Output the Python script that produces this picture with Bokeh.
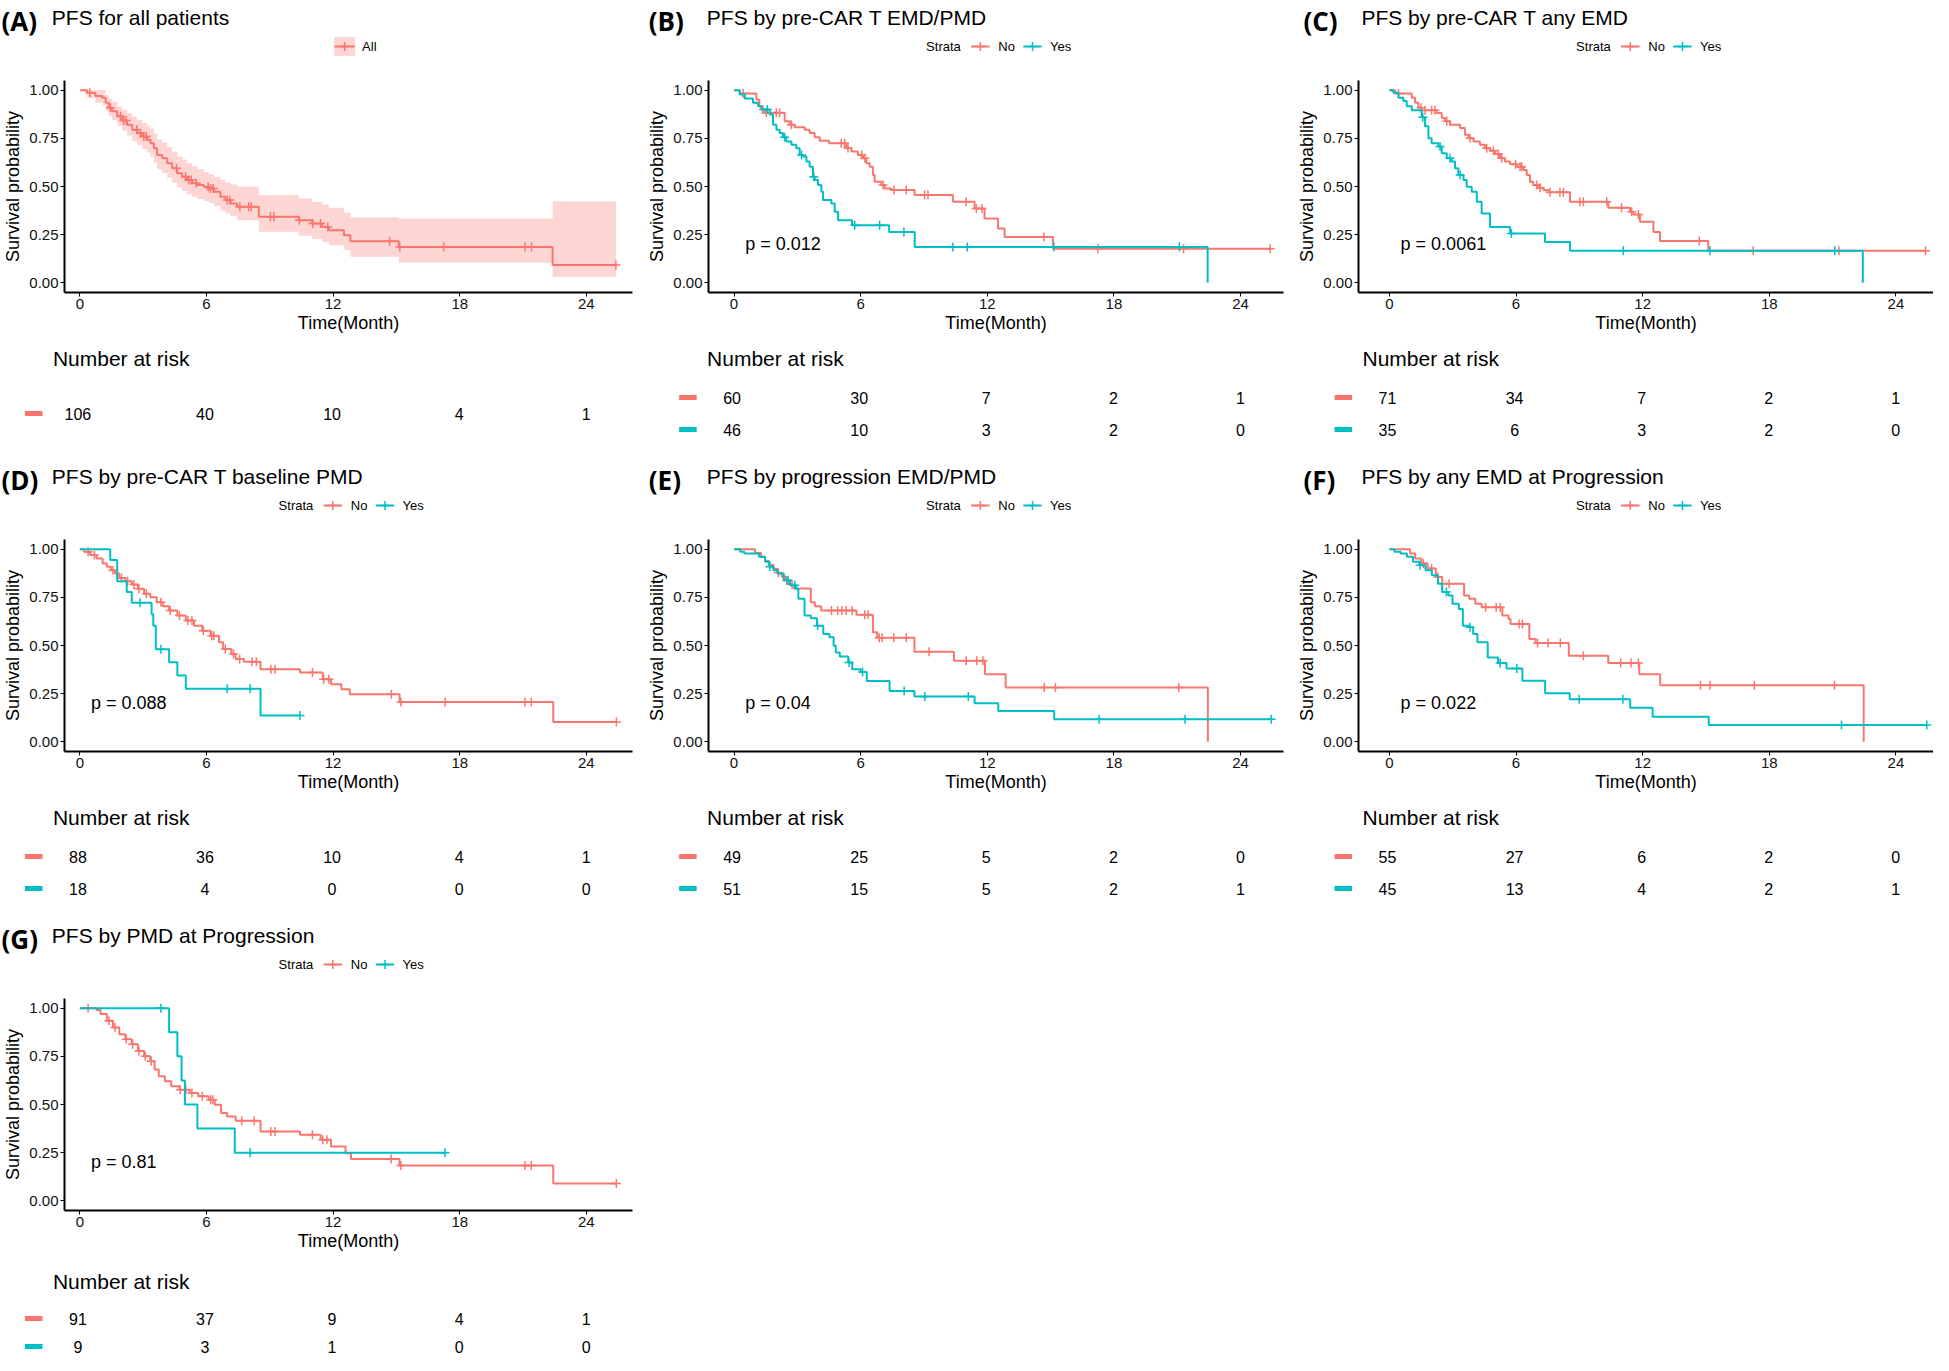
import numpy as np
from bokeh.plotting import figure
from bokeh.layouts import column, row
from bokeh.models import Range1d, FixedTicker, PrintfTickFormatter
from bokeh.core.properties import value
from bokeh.embed import file_html
from bokeh.resources import INLINE

# ------------------------------------------------------------------ data
RISK_TIMES = [0, 6, 12, 18, 24]
X_TICKS = [0, 6, 12, 18, 24]
Y_TICKS = [0.0, 0.25, 0.50, 0.75, 1.0]

# (A) all patients
A_all_t = [0, 0.35, 0.74, 1.06, 1.22, 1.37, 1.53, 1.77, 2.01, 2.24, 2.48, 2.72, 2.95, 3.19, 3.35, 3.51,
           3.66, 3.90, 4.14, 4.37, 4.61, 4.85, 5.08, 5.32, 5.56, 5.87, 6.11, 6.35, 6.66, 6.90, 7.14, 7.45,
           8.48, 10.37, 11.01, 11.48, 11.80, 12.51, 12.82, 15.11, 22.40, 25.40]
A_all_s = [1.0, 0.986, 0.969, 0.960, 0.934, 0.908, 0.890, 0.864, 0.842, 0.821, 0.795, 0.777, 0.760, 0.743,
           0.725, 0.699, 0.664, 0.647, 0.621, 0.595, 0.569, 0.551, 0.534, 0.517, 0.508, 0.499, 0.490, 0.473,
           0.447, 0.430, 0.412, 0.395, 0.343, 0.325, 0.308, 0.290, 0.273, 0.247, 0.216, 0.186, 0.093, 0.093]
A_band_lo = [1.0, 0.96, 0.935, 0.92, 0.89, 0.865, 0.845, 0.815, 0.79, 0.765, 0.735, 0.715, 0.695, 0.675,
             0.655, 0.625, 0.59, 0.57, 0.545, 0.52, 0.495, 0.475, 0.46, 0.445, 0.435, 0.425, 0.415, 0.40,
             0.375, 0.36, 0.345, 0.325, 0.265, 0.245, 0.228, 0.212, 0.195, 0.17, 0.135, 0.104, 0.03, 0.03]
A_band_hi = [1.0, 1.0, 1.0, 1.0, 0.975, 0.955, 0.94, 0.915, 0.90, 0.88, 0.86, 0.845, 0.83, 0.815, 0.80,
             0.775, 0.745, 0.73, 0.705, 0.68, 0.655, 0.64, 0.62, 0.605, 0.59, 0.575, 0.565, 0.55, 0.535,
             0.52, 0.51, 0.50, 0.456, 0.438, 0.42, 0.407, 0.39, 0.365, 0.34, 0.334, 0.424, 0.424]
A_all_cens = [0.47, 1.45, 1.93, 2.08, 2.20, 2.70, 2.87, 3.03, 3.15, 4.58, 5.01, 5.16, 5.28, 5.52, 6.08,
              6.19, 6.32, 6.98, 7.10, 7.58, 8.00, 8.12, 9.03, 9.19, 10.40, 11.04, 11.40, 11.75, 14.68,
              15.16, 17.24, 21.10, 21.40, 25.40]
A_risk_all = [106, 40, 10, 4, 1]

# (B) pre-CAR T EMD/PMD
B_no_t = [0, 0.27, 1.06, 1.20, 1.30, 1.45, 2.40, 2.64, 2.87, 3.35, 3.58, 3.82, 4.06, 4.50, 5.32, 5.56,
          5.87, 6.11, 6.27, 6.43, 6.58, 6.66, 6.98, 7.14, 7.45, 8.56, 10.37, 11.40, 11.87, 12.51, 12.82,
          15.11, 25.40]
B_no_s = [1.0, 0.983, 0.950, 0.917, 0.900, 0.883, 0.838, 0.821, 0.807, 0.795, 0.777, 0.755, 0.737, 0.725,
          0.700, 0.682, 0.664, 0.647, 0.621, 0.603, 0.560, 0.525, 0.508, 0.490, 0.482, 0.456, 0.421, 0.386,
          0.334, 0.282, 0.238, 0.177, 0.177]
B_no_cens = [0.43, 1.37, 1.53, 2.00, 2.16, 2.72, 5.08, 5.24, 5.40, 6.05, 6.20, 7.06, 7.58, 8.16, 9.03,
             9.19, 11.00, 11.48, 11.75, 14.68, 17.24, 21.30, 25.40]
B_yes_t = [0, 0.27, 0.51, 0.90, 1.14, 1.30, 1.69, 1.85, 2.01, 2.16, 2.32, 2.48, 2.72, 2.95, 3.11, 3.27,
           3.43, 3.58, 3.74, 3.82, 3.98, 4.14, 4.22, 4.61, 4.77, 4.93, 5.59, 7.35, 8.56, 22.44]
B_yes_s = [1.0, 0.977, 0.957, 0.934, 0.917, 0.899, 0.873, 0.821, 0.795, 0.777, 0.755, 0.734, 0.717, 0.699,
           0.664, 0.656, 0.630, 0.603, 0.551, 0.534, 0.508, 0.473, 0.430, 0.412, 0.369, 0.325, 0.299, 0.264,
           0.186, 0.0]
B_yes_cens = [1.58, 2.40, 3.20, 3.78, 5.72, 6.90, 8.05, 10.37, 11.05, 15.16, 21.10]
B_risk_no = [60, 30, 7, 2, 1]
B_risk_yes = [46, 10, 3, 2, 0]

# (C) pre-CAR T any EMD
C_no_t = [0, 0.27, 1.06, 1.22, 1.37, 1.53, 2.24, 2.48, 2.64, 2.87, 3.35, 3.58, 3.74, 3.98, 4.29, 4.53,
          4.77, 5.01, 5.24, 5.48, 5.72, 6.03, 6.35, 6.51, 6.66, 6.82, 7.06, 7.30, 7.53, 8.56, 10.37, 11.40,
          11.56, 11.87, 12.51, 12.82, 15.11, 25.40]
C_no_s = [1.0, 0.983, 0.960, 0.934, 0.908, 0.896, 0.882, 0.856, 0.838, 0.821, 0.803, 0.769, 0.751, 0.734,
          0.717, 0.699, 0.685, 0.668, 0.647, 0.630, 0.616, 0.603, 0.586, 0.560, 0.525, 0.508, 0.494, 0.482,
          0.470, 0.421, 0.390, 0.369, 0.355, 0.317, 0.264, 0.217, 0.167, 0.167]
C_no_cens = [0.43, 1.50, 1.69, 2.00, 2.16, 2.72, 3.82, 4.61, 4.93, 5.16, 5.32, 5.98, 6.19, 6.27, 6.98,
             7.14, 7.61, 8.08, 8.24, 9.03, 9.19, 10.30, 11.00, 11.48, 11.80, 14.68, 17.24, 21.30, 25.40]
C_yes_t = [0, 0.19, 0.43, 0.66, 0.82, 1.06, 1.53, 1.69, 1.85, 2.00, 2.32, 2.48, 2.72, 2.95, 3.11, 3.27,
           3.51, 3.66, 3.90, 4.14, 4.37, 4.77, 5.72, 7.37, 8.56, 22.43]
C_yes_s = [1.0, 0.986, 0.960, 0.943, 0.917, 0.896, 0.859, 0.812, 0.751, 0.725, 0.708, 0.673, 0.647, 0.630,
           0.595, 0.560, 0.534, 0.499, 0.473, 0.421, 0.360, 0.290, 0.256, 0.212, 0.167, 0.0]
C_yes_cens = [1.58, 2.40, 2.87, 3.35, 5.78, 11.08, 15.19, 21.10]
C_risk_no = [71, 34, 7, 2, 1]
C_risk_yes = [35, 6, 3, 2, 0]

# (D) pre-CAR T baseline PMD
D_no_t = [0, 0.20, 0.49, 0.79, 1.08, 1.28, 1.48, 1.67, 1.87, 2.16, 2.46, 2.75, 3.05, 3.34, 3.64, 3.93,
          4.23, 4.62, 5.02, 5.41, 5.80, 6.20, 6.59, 6.79, 7.18, 7.38, 7.77, 8.56, 10.43, 11.51, 11.90,
          12.39, 12.79, 15.15, 22.43, 25.42]
D_no_s = [1.0, 0.986, 0.969, 0.951, 0.925, 0.908, 0.890, 0.873, 0.850, 0.833, 0.816, 0.795, 0.769, 0.751,
          0.725, 0.704, 0.682, 0.656, 0.630, 0.603, 0.577, 0.551, 0.517, 0.482, 0.456, 0.430, 0.416, 0.377,
          0.360, 0.325, 0.299, 0.273, 0.247, 0.207, 0.103, 0.103]
D_no_cens = [0.39, 0.69, 1.57, 1.97, 2.26, 2.56, 2.80, 3.15, 3.84, 4.28, 4.72, 5.12, 5.31, 5.85, 6.25,
             6.35, 6.89, 7.28, 7.57, 8.16, 8.36, 9.05, 9.25, 11.02, 11.55, 11.80, 14.76, 15.21, 17.31,
             21.09, 21.39, 25.42]
D_yes_t = [0, 1.44, 1.77, 2.22, 2.46, 3.40, 3.48, 3.60, 4.23, 4.62, 5.02, 8.56, 10.43]
D_yes_s = [1.0, 0.944, 0.833, 0.778, 0.722, 0.662, 0.602, 0.481, 0.413, 0.344, 0.275, 0.137, 0.137]
D_yes_cens = [2.85, 3.84, 6.98, 8.07, 10.43]
D_risk_no = [88, 36, 10, 4, 1]
D_risk_yes = [18, 4, 0, 0, 0]

# (E) progression EMD/PMD
E_no_t = [0, 1.00, 1.28, 1.47, 1.67, 1.87, 2.06, 2.26, 2.46, 2.65, 2.85, 3.64, 3.83, 4.13, 5.80, 6.58,
          6.78, 8.55, 10.42, 11.89, 12.87, 22.45]
E_no_s = [1.0, 0.980, 0.959, 0.939, 0.918, 0.898, 0.878, 0.857, 0.837, 0.816, 0.796, 0.725, 0.704, 0.682,
          0.659, 0.569, 0.540, 0.468, 0.421, 0.351, 0.282, 0.0]
E_no_cens = [2.10, 2.50, 2.75, 4.62, 4.91, 5.11, 5.31, 5.60, 6.19, 6.35, 6.88, 7.02, 7.57, 8.16, 9.24,
             11.00, 11.50, 11.79, 14.70, 15.23, 21.07]
E_yes_t = [0, 0.29, 0.49, 1.18, 1.47, 1.67, 1.87, 2.06, 2.36, 2.65, 2.95, 3.05, 3.34, 3.64, 3.93, 4.23,
           4.52, 4.72, 4.82, 5.01, 5.41, 5.60, 6.00, 6.29, 7.37, 8.55, 11.40, 12.52, 15.17, 25.45]
E_yes_s = [1.0, 0.986, 0.977, 0.960, 0.934, 0.908, 0.890, 0.873, 0.838, 0.812, 0.795, 0.743, 0.656, 0.642,
           0.603, 0.560, 0.543, 0.499, 0.464, 0.443, 0.412, 0.377, 0.363, 0.316, 0.264, 0.235, 0.200, 0.160,
           0.117, 0.117]
E_yes_cens = [1.70, 2.56, 2.88, 3.96, 5.45, 6.09, 8.06, 9.04, 11.10, 17.30, 21.37, 25.45]
E_risk_no = [49, 25, 5, 2, 0]
E_risk_yes = [51, 15, 5, 2, 1]

# (F) any EMD at progression
F_no_t = [0, 0.98, 1.22, 1.51, 1.81, 2.20, 2.50, 3.54, 3.78, 4.07, 4.37, 5.35, 5.65, 5.74, 6.63, 6.93,
          8.50, 10.37, 11.84, 12.83, 22.47]
F_no_s = [1.0, 0.977, 0.951, 0.925, 0.899, 0.856, 0.821, 0.760, 0.743, 0.717, 0.699, 0.656, 0.638, 0.612,
          0.534, 0.513, 0.447, 0.409, 0.351, 0.294, 0.0]
F_no_cens = [1.61, 2.00, 2.30, 2.83, 4.56, 5.06, 5.25, 6.14, 6.30, 7.02, 7.52, 8.10, 9.19, 10.96, 11.45,
             11.80, 14.74, 15.19, 17.29, 21.09]
F_yes_t = [0, 0.24, 0.53, 0.83, 1.12, 1.42, 1.71, 2.01, 2.30, 2.50, 2.79, 2.99, 3.29, 3.48, 3.78, 3.97,
           4.17, 4.66, 5.15, 5.55, 6.30, 7.38, 8.54, 11.41, 12.47, 15.13, 25.46]
F_yes_s = [1.0, 0.986, 0.977, 0.960, 0.934, 0.916, 0.890, 0.864, 0.821, 0.777, 0.760, 0.717, 0.690, 0.603,
           0.595, 0.560, 0.517, 0.438, 0.409, 0.381, 0.317, 0.252, 0.221, 0.177, 0.130, 0.087, 0.087]
F_yes_cens = [1.45, 2.70, 3.82, 5.25, 6.04, 8.99, 11.06, 21.42, 25.46]
F_risk_no = [55, 27, 6, 2, 0]
F_risk_yes = [45, 13, 4, 2, 1]

# (G) PMD at progression
G_no_t = [0, 0.79, 0.98, 1.28, 1.57, 1.87, 2.16, 2.46, 2.75, 3.05, 3.34, 3.54, 3.74, 4.03, 4.33, 4.72,
          5.21, 5.61, 6.10, 6.39, 6.69, 6.98, 7.38, 8.56, 10.43, 11.41, 11.90, 12.59, 12.85, 15.15, 22.43,
          25.42]
G_no_s = [1.0, 0.990, 0.969, 0.934, 0.899, 0.864, 0.838, 0.812, 0.777, 0.751, 0.725, 0.682, 0.647, 0.621,
          0.595, 0.577, 0.560, 0.543, 0.525, 0.499, 0.456, 0.438, 0.416, 0.360, 0.343, 0.317, 0.282, 0.247,
          0.217, 0.183, 0.090, 0.090]
G_no_cens = [0.39, 1.38, 1.67, 2.20, 2.50, 2.80, 3.10, 3.38, 4.76, 5.02, 5.31, 5.80, 6.20, 6.30, 7.67,
             8.26, 9.05, 9.25, 11.02, 11.51, 11.71, 14.75, 15.21, 21.09, 21.39, 25.42]
G_yes_t = [0, 4.23, 4.62, 4.82, 4.98, 5.57, 7.34, 17.30]
G_yes_s = [1.0, 0.875, 0.750, 0.625, 0.500, 0.375, 0.250, 0.250]
G_yes_cens = [3.84, 8.07, 17.30]
G_risk_no = [91, 37, 9, 4, 1]
G_risk_yes = [9, 3, 1, 0, 0]

TAGS = ["(A)", "(B)", "(C)", "(D)", "(E)", "(F)", "(G)"]
TITLES = ["PFS for all patients", "PFS by pre-CAR T EMD/PMD", "PFS by pre-CAR T any EMD",
          "PFS by pre-CAR T baseline PMD", "PFS by progression EMD/PMD",
          "PFS by any EMD at Progression", "PFS by PMD at Progression"]
PVALS = [None, "p = 0.012", "p = 0.0061", "p = 0.088", "p = 0.04", "p = 0.022", "p = 0.81"]

# ------------------------------------------------------------------ style / geometry
RED = "#F8766D"
CYAN = "#00BFC4"
SANS = "Liberation Sans"
TAGFONT = "Open Sans"
PXM = 21.18                      # pixels per month
HEAD_H, FRAME_TOP, FRAME_H, BORDER_B, BORDER_L = 72, 8, 212, 48, 62
KM_H = FRAME_TOP + FRAME_H + BORDER_B
RISK_H = [119, 119, 97]
NAR_Y = [18, 18, 23]
ROW_YS = [(57, 89), (57, 89), (60, 88)]

COLS = [
    dict(fig_left=8, width=644, frame_left=70, frame_right=640, zero=85.4, ref_frame_left=58.3),
    dict(fig_left=652, width=650, frame_left=714, frame_right=1291, zero=739.6, ref_frame_left=713.3),
    dict(fig_left=1302, width=639, frame_left=1364, frame_right=1941, zero=1395.0, ref_frame_left=1367.9),
]


def surv_at(t, s, tc):
    idx = np.searchsorted(np.asarray(t), np.asarray(tc), side="right") - 1
    return np.asarray(s)[idx]


def bare(fig):
    fig.xgrid.visible = False
    fig.ygrid.visible = False
    fig.outline_line_color = None
    return fig


def header_fig(col, tag, title, legend):
    W = col["width"]
    h = figure(width=W, height=HEAD_H, x_range=Range1d(0, W), y_range=Range1d(HEAD_H, 0),
               output_backend="svg", toolbar_location=None, title=None, min_border=0,
               min_border_left=0, min_border_right=0, min_border_top=0, min_border_bottom=0,
               x_axis_location=None, y_axis_location=None, frame_align=False)
    bare(h)
    off = col["fig_left"]
    tag_x = max(9.0, col["ref_frame_left"] - 57) - off
    h.text(x=[tag_x], y=[20], text=[tag], text_font=value(TAGFONT), text_font_style="bold",
           text_font_size="26px", text_align="left", text_baseline="middle", text_color="black")
    h.text(x=[col["ref_frame_left"] + 1 - off], y=[16.5], text=[title], text_font=value(SANS),
           text_font_size="21px", text_align="left", text_baseline="alphabetic", text_color="black")
    c = (col["frame_left"] + col["frame_right"]) / 2 - off + 4
    ly = 46
    if legend == "all":
        h.quad(left=[c - 17.4], right=[c + 3.6], top=[ly - 9.5], bottom=[ly + 9.5],
               fill_color=RED, fill_alpha=0.3, line_color=None)
        h.segment(x0=[c - 17.0], y0=[ly], x1=[c + 3.2], y1=[ly], line_color=RED, line_width=2)
        h.scatter(x=[c - 6.9], y=[ly], marker="cross", size=9, line_color=RED, line_width=1.5)
        h.text(x=[c + 10.6], y=[ly], text=["All"], text_font=value(SANS), text_font_size="13px",
               text_align="left", text_baseline="middle", text_color="black")
    else:
        h.text(x=[c - 72.9], y=[ly], text=["Strata"], text_font=value(SANS), text_font_size="13px",
               text_align="left", text_baseline="middle", text_color="black")
        for k0, k1, lab, lx, colr in ((-28.0, -9.4, "No", -0.7, RED), (24.3, 42.7, "Yes", 51.0, CYAN)):
            h.segment(x0=[c + k0], y0=[ly], x1=[c + k1], y1=[ly], line_color=colr, line_width=2)
            h.scatter(x=[c + (k0 + k1) / 2], y=[ly], marker="cross", size=9, line_color=colr,
                      line_width=1.5)
            h.text(x=[c + lx], y=[ly], text=[lab], text_font=value(SANS), text_font_size="13px",
                   text_align="left", text_baseline="middle", text_color="black")
    return h


def km_fig(col, curves, band=None, pval=None):
    fw = col["frame_right"] - col["frame_left"]
    xs = (col["frame_left"] - col["zero"]) / PXM
    xe = (col["frame_right"] - col["zero"]) / PXM
    p = figure(width=col["width"], height=KM_H, x_range=Range1d(xs, xe), y_range=Range1d(-0.05, 1.05),
               output_backend="svg", toolbar_location=None, title=None, frame_align=False,
               min_border_left=BORDER_L, min_border_right=col["width"] - BORDER_L - fw,
               min_border_top=FRAME_TOP, min_border_bottom=BORDER_B)
    bare(p)
    if band is not None:
        bt, blo, bhi = band
        p.varea_step(x=bt, y1=blo, y2=bhi, step_mode="after", fill_color=RED, fill_alpha=0.3)
    for t, s, cens, colr in curves:
        p.step(x=t, y=s, mode="after", line_color=colr, line_width=2)
        p.scatter(x=cens, y=surv_at(t, s, cens), marker="cross", size=9, line_color=colr, line_width=1.5)
    if pval:
        p.text(x=[0.53], y=[0.2], text=[pval], text_font=value(SANS), text_font_size="18px",
               text_align="left", text_baseline="middle", text_color="black")
    p.xaxis.ticker = FixedTicker(ticks=X_TICKS)
    p.yaxis.ticker = FixedTicker(ticks=Y_TICKS)
    p.yaxis.formatter = PrintfTickFormatter(format="%.2f")
    p.xaxis.axis_label = "Time(Month)"
    p.yaxis.axis_label = "Survival probability"
    for ax in (p.xaxis, p.yaxis):
        ax.axis_line_width = 2
        ax.axis_line_color = "black"
        ax.major_tick_line_color = "black"
        ax.major_tick_line_width = 1
        ax.major_tick_out = 4
        ax.major_tick_in = 0
        ax.minor_tick_line_color = None
        ax.major_label_text_font = SANS
        ax.major_label_text_font_size = "15px"
        ax.major_label_text_color = "#111111"
        ax.axis_label_text_font = SANS
        ax.axis_label_text_font_size = "18px"
        ax.axis_label_text_font_style = "normal"
        ax.axis_label_text_color = "black"
    p.xaxis.major_label_standoff = 2
    p.xaxis.axis_label_standoff = 1
    p.yaxis.major_label_standoff = 2
    p.yaxis.axis_label_standoff = 3
    return p


def risk_fig(col, height, rows, ys, nar_y):
    W = col["width"]
    xs = (col["fig_left"] - col["zero"]) / PXM
    r = figure(width=W, height=height, x_range=Range1d(xs, xs + W / PXM), y_range=Range1d(height, 0),
               output_backend="svg", toolbar_location=None, title=None, min_border=0,
               min_border_left=0, min_border_right=0, min_border_top=0, min_border_bottom=0,
               x_axis_location=None, y_axis_location=None, frame_align=False)
    bare(r)
    r.text(x=[-25 / PXM], y=[nar_y], text=["Number at risk"], text_font=value(SANS), text_font_size="21px",
           text_align="left", text_baseline="middle", text_color="black")
    for (vals, colr), y in zip(rows, ys):
        r.segment(x0=[-53 / PXM], y0=[y], x1=[-35.4 / PXM], y1=[y], line_color=colr, line_width=5,
                  line_cap="butt")
        r.text(x=RISK_TIMES, y=[y] * len(RISK_TIMES), text=[str(v) for v in vals], text_font=value(SANS),
               text_font_size="16px", text_align="center", text_baseline="middle", text_color="black")
    return r


PANELS = [
    dict(col=0, rowi=0, legend="all", band=(A_all_t, A_band_lo, A_band_hi),
         curves=[(A_all_t, A_all_s, A_all_cens, RED)], risk=[(A_risk_all, RED)]),
    dict(col=1, rowi=0, legend="strata", band=None,
         curves=[(B_no_t, B_no_s, B_no_cens, RED), (B_yes_t, B_yes_s, B_yes_cens, CYAN)],
         risk=[(B_risk_no, RED), (B_risk_yes, CYAN)]),
    dict(col=2, rowi=0, legend="strata", band=None,
         curves=[(C_no_t, C_no_s, C_no_cens, RED), (C_yes_t, C_yes_s, C_yes_cens, CYAN)],
         risk=[(C_risk_no, RED), (C_risk_yes, CYAN)]),
    dict(col=0, rowi=1, legend="strata", band=None,
         curves=[(D_no_t, D_no_s, D_no_cens, RED), (D_yes_t, D_yes_s, D_yes_cens, CYAN)],
         risk=[(D_risk_no, RED), (D_risk_yes, CYAN)]),
    dict(col=1, rowi=1, legend="strata", band=None,
         curves=[(E_no_t, E_no_s, E_no_cens, RED), (E_yes_t, E_yes_s, E_yes_cens, CYAN)],
         risk=[(E_risk_no, RED), (E_risk_yes, CYAN)]),
    dict(col=2, rowi=1, legend="strata", band=None,
         curves=[(F_no_t, F_no_s, F_no_cens, RED), (F_yes_t, F_yes_s, F_yes_cens, CYAN)],
         risk=[(F_risk_no, RED), (F_risk_yes, CYAN)]),
    dict(col=0, rowi=2, legend="strata", band=None,
         curves=[(G_no_t, G_no_s, G_no_cens, RED), (G_yes_t, G_yes_s, G_yes_cens, CYAN)],
         risk=[(G_risk_no, RED), (G_risk_yes, CYAN)]),
]

grid_rows = [[], [], []]
for i, spec in enumerate(PANELS):
    col = COLS[spec["col"]]
    ri = spec["rowi"]
    h = header_fig(col, TAGS[i], TITLES[i], spec["legend"])
    k = km_fig(col, spec["curves"], spec["band"], PVALS[i])
    rows = spec["risk"]
    if len(rows) == 1:
        ys = [(ROW_YS[ri][0] + ROW_YS[ri][1]) / 2]
    else:
        ys = list(ROW_YS[ri])
    r = risk_fig(col, RISK_H[ri], rows, ys, NAR_Y[ri])
    grid_rows[ri].append(column(h, k, r, spacing=0))

layout = column(*[row(*g, spacing=0) for g in grid_rows], spacing=0)

open("out.html", "w").write(file_html(layout, INLINE, "PFS Kaplan-Meier curves"))
